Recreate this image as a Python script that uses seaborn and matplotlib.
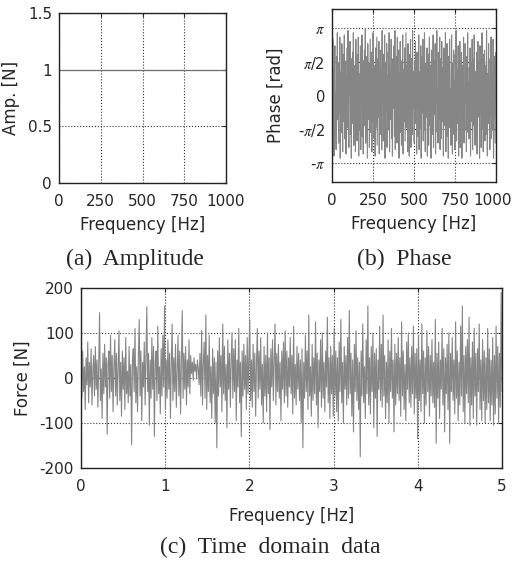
import numpy as np
import pandas as pd
import matplotlib
matplotlib.use('Agg')
import matplotlib.pyplot as plt
import matplotlib.transforms as mtransforms
import seaborn as sns

#%% data
amp_freq = [0, 1000]
amp = [1.0, 1.0]

# phase spectrum [rad], 0 - 1000 Hz
phase = [
    0.4, -1.9, 2.6, -0.7, 1.2, -2.8, 0.9, 2.3, -1.4, 0.1, -2.5, 1.8, -0.3, 2.9, -1.1, 0.6, -2.2, 1.5, -0.8, 2.7,
    -2.9, 0.2, 1.1, -1.7, 2.4, -0.5, -2.6, 1.9, 0.7, -1.2, 2.8, -2.0, 0.3, 1.6, -2.7, 0.9, -0.4, 2.2, -1.5, 3.0,
    -0.9, -2.4, 1.3, 0.0, 2.5, -1.8, 0.8, -2.9, 1.7, -0.2, 2.0, -1.3, 2.9, -2.3, 0.5, -0.9, 1.4, -2.6, 2.6, -1.0,
    0.3, -2.1, 1.9, -0.6, 2.7, -2.8, 1.0, -1.6, 0.4, 2.3, -2.5, 1.2, -0.1, 2.8, -1.9, 0.6, -2.7, 1.6, -0.7, 2.1,
    -1.4, 3.1, -2.2, 0.2, 1.8, -0.8, -2.9, 2.4, -1.1, 0.9, 1.5, -2.4, 0.1, 2.6, -1.7, -0.3, 2.0, -2.6, 1.1, -1.2,
    2.9, -0.5, -2.0, 1.4, 0.6, -2.8, 2.2, -1.5, 0.8, 2.7, -2.3, 0.0, 1.7, -1.0, 2.5, -2.7, 0.4, -0.9, 2.1, -1.8,
    1.2, -2.5, 3.0, -0.4, 0.7, -2.1, 1.9, -1.3, 2.8, -2.9, 0.3, 1.5, -0.7, 2.4, -2.4, 0.9, -1.6, 2.0, -0.2, 2.9,
    -2.6, 1.1, -1.1, 0.5, 2.6, -2.0, 1.7, -2.8, 0.2, 1.3, -0.6, 2.3, -1.9, 3.0, -2.5, 0.8, -0.3, 1.8, -2.2, 2.7,
    -1.4, 0.4, 2.1, -2.9, 1.0, -0.8, 2.5, -1.7, 0.6, -2.3, 1.6, -0.1, 2.8, -2.7, 1.2, -1.2, 0.9, 2.2, -2.1, 0.3,
    2.9, -1.5, -0.4, 1.4, -2.6, 2.4, -0.9, 0.7, -2.8, 1.9, -1.0, 2.6, -2.4, 0.1, 1.7, -1.8, 3.0, -0.6, 1.1, 0.2,
    -2.2, 1.6, -0.2, 2.5, -1.3, 0.8, -2.7, 2.0, -0.6, 1.3, -1.9, 2.8, -2.5, 0.5, 1.1, -1.5, 2.3, -2.9, 0.0, 1.8,
    -0.8, 2.6, -2.1, 1.0, -1.6, 2.9, -0.3, -2.6, 1.5, 0.4, -1.0, 2.2, -2.8, 0.7, 1.9, -2.3, 0.2, 2.7, -1.4, -0.5,
    1.4, -2.9, 2.1, -0.1, 0.9, -1.8, 2.8, -2.4, 0.6, 1.6, -0.9, 2.4, -2.7, 1.2, -0.4, 3.0, -1.7, 0.3, -2.2, 2.0,
    -1.1, 0.5, 2.7, -2.5, 1.7, -0.7, -2.0, 2.5, -1.2, 0.1, 1.3, -2.8, 2.2, -0.5, 0.8, -1.4, 2.9, -2.6, 1.0, -0.2,
    2.4, -1.9, 0.6, -2.9, 1.8, -0.4, 2.6, -1.5, 0.3, -2.3, 1.1, 2.8, -1.0, -2.7, 1.5, 0.0, 2.1, -1.8, 0.7, -2.5,
    1.9, -0.6, 3.0, -2.1, 0.4, 1.2, -1.3, 2.3, -2.8, 0.9, -0.1, 2.5, -2.4, 1.6, -0.8, 2.0, -2.9, 0.5, 1.4, -1.1,
    2.7, -2.2, 0.2, -1.6, 2.4, -0.3, 1.0, -2.6, 1.8, -0.9, 2.9, -1.7, 0.6, -2.0, 1.3, -0.5, 2.2, -2.8, 0.8, 1.5,
    -1.2, 2.6, -2.5, 0.1, 1.7, -1.4, 2.8, -0.7, -2.3, 1.1, 0.4, -1.9, 2.0, -2.7, 0.9, 2.5, -1.0, -0.2, 1.6, -2.9,
    2.3, -0.8, 1.2, -2.4, 0.5, 2.9, -1.5, 0.0, -2.6, 1.9, -0.4, 2.1, -2.1, 0.7, 1.4, -1.8, 3.0, -0.6, -2.8, 1.0,
    -0.1, 2.4, -1.3, 0.8, -2.5, 1.7, -0.9, 2.7, -2.0, 0.3, 1.1, -1.6, 2.6, -2.9, 0.6, 1.8, -0.3, -2.2, 2.0, 0.9,
]

# force [N], 0 - 5
force = [
    # 0 - 1
    10, -45, 60, -30, 25, -70, 45, -15, 80, -55, 35, -20, 65, -60, 15, 50, -40, 70, -25, 40,
    -65, 30, 145, -50, 20, -90, 55, -35, 75, -20, 45, -125, 30, 60, -45, 95, -30, 50, -75, 25,
    85, -40, 55, -60, 20, 105, -50, 35, -85, 60, -25, 45, -70, 90, -35, 15, -55, 70, -40, 30,
    -148, 40, 65, -30, 110, -55, 25, -75, 50, 130, -40, 60, -95, 35, -20, 80, -60, 45, 158, -30,
    55, -105, 40, -45, 90, -25, 70, -130, 35, 60, -50, 115, -35, 25, -80, 65, -40, 95, -20, 160,
    # 1 - 2
    -70, 40, -45, 85, -25, 55, -90, 30, 120, -50, 45, -30, 75, -65, 20, 95, -40, 60, -80, 35,
    150, -45, 55, -25, 70, -60, 40, -20, 85, -35, 50, 10, 35, -5, 45, 15, 30, 0, 40, 20,
    -15, 55, -40, 105, -60, 30, 80, -45, 140, -70, 50, -30, 95, -55, 25, -90, 65, -35, 45, -100,
    35, -155, 60, -40, 90, -20, 50, -75, 120, -35, 70, -50, 30, -110, 85, -25, 55, -65, 40, 100,
    -45, 65, -30, 85, -95, 40, -20, 110, -55, 35, -130, 60, -40, 75, -25, 50, -70, 90, -35, 45,
    # 2 - 3
    130, -50, 40, -65, 75, -30, 55, -85, 35, 110, -45, 60, -25, 90, -60, 30, -100, 70, -40, 50,
    -75, 100, -35, 45, -115, 65, -20, 85, -50, 40, 120, -60, 55, -30, 75, -45, 35, -95, 60, -25,
    80, -55, 105, -40, 60, -65, 45, -20, 90, -35, 50, -80, 115, -45, 30, -60, 70, -25, 55, -50,
    40, -100, 65, -155, 35, -45, 95, -30, 60, -70, 140, -40, 25, -85, 75, -50, 45, -35, 125, -60,
    55, -110, 40, -30, 85, -65, 100, -45, 35, -75, 60, -20, 135, -55, 45, -90, 70, -35, 50, -85,
    # 3 - 4
    110, -40, 60, -75, 45, -95, 80, -30, 130, -55, 35, -100, 70, -25, 50, -60, 90, -45, 150, -35,
    55, -85, 40, -120, 75, -30, 105, -50, 45, -70, 35, -175, 60, -40, 120, -55, 25, -90, 85, -35,
    160, -60, 45, -80, 70, -30, 100, -110, 55, -45, 65, -130, 40, -25, 115, -50, 75, -65, 140, -40,
    50, -90, 35, -55, 85, -100, 60, -30, 110, -45, 40, -120, 75, -60, 55, -35, 90, -50, 45, -85,
    125, -40, 60, -70, 30, -95, 80, -25, 100, -55, 45, -65, 70, -35, 115, -80, 55, -45, 65, -135,
    # 4 - 5
    95, -50, 40, -75, 120, -35, 60, -100, 45, -60, 105, -30, 70, -85, 50, -40, 85, -55, 35, -65,
    130, -145, 55, -45, 80, -90, 40, -25, 110, -60, 65, -120, 45, -35, 75, -70, 100, -145, 55, -30,
    90, -50, 40, -80, 125, -45, 60, -95, 35, -60, 115, -40, 160, -75, 50, -100, 70, -35, 85, -55,
    135, -105, 45, -60, 80, -90, 110, -40, 55, -105, 65, -30, 120, -70, 40, -95, 85, -50, 60, -100,
    45, -70, 110, -55, 65, -95, 40, -60, 90, -105, 50, -80, 115, -45, 70, -100, 55, -65, 190, -30,
]

phase_freq = np.linspace(0, 1000, len(phase))
time = np.linspace(0, 5, len(force))

amp_df = pd.DataFrame({'freq': amp_freq, 'amp': amp})
phase_df = pd.DataFrame({'freq': phase_freq, 'phase': phase})
force_df = pd.DataFrame({'t': time, 'force': force})

#%% style
sns.set_style('white')
plt.rcParams['font.family'] = ['DejaVu Sans']
plt.rcParams['mathtext.fontset'] = 'stix'
plt.rcParams['axes.unicode_minus'] = False
line_col = '#868686'
fs = 12       # axis labels
tick_fs = 11  # tick labels
cap_fs = 17


def style_ax(ax):
    ax.grid(True, color='#333333', linestyle=':', linewidth=0.8)
    for s in ax.spines.values():
        s.set_color('#222222')
        s.set_linewidth(1.0)
    ax.tick_params(direction='in', length=3, labelsize=tick_fs,
                   top=True, right=True, color='#222222')
    ax.tick_params(axis='x', pad=8)
    ax.tick_params(axis='y', pad=5)


fig = plt.figure(figsize=(5.14, 5.61), dpi=100)
ax_a = fig.add_axes([59 / 514, 1 - 183 / 561, 167 / 514, 170 / 561])
ax_b = fig.add_axes([332 / 514, 1 - 182 / 561, 164 / 514, 173 / 561])
ax_c = fig.add_axes([81 / 514, 1 - 468 / 561, 421 / 514, 180 / 561])

# (a) amplitude
sns.lineplot(data=amp_df, x='freq', y='amp', ax=ax_a, color='#707070', linewidth=0.9)
ax_a.set_xlim(0, 1000)
ax_a.set_ylim(0, 1.5)
ax_a.set_xticks([0, 250, 500, 750, 1000])
ax_a.set_yticks([0, 0.5, 1, 1.5])
ax_a.set_yticklabels(['0', '0.5', '1', '1.5'])
ax_a.set_xlabel('Frequency [Hz]', fontsize=fs, labelpad=5)
ax_a.set_ylabel('Amp. [N]', fontsize=fs)
ax_a.yaxis.set_label_coords(-0.234, 0.5)
style_ax(ax_a)

# (b) phase
sns.lineplot(data=phase_df, x='freq', y='phase', ax=ax_b, color=line_col, linewidth=0.8)
ax_b.set_xlim(0, 1000)
ax_b.set_ylim(-4, 4)
ax_b.set_xticks([0, 250, 500, 750, 1000])
ax_b.set_yticks([-np.pi, -np.pi / 2, 0, np.pi / 2, np.pi])
ax_b.set_yticklabels([r'-$\pi$', r'-$\pi$/2', '0', r'$\pi$/2', r'$\pi$'])
ax_b.set_xlabel('Frequency [Hz]', fontsize=fs, labelpad=5)
ax_b.set_ylabel('Phase [rad]', fontsize=fs)
ax_b.yaxis.set_label_coords(-0.287, 0.5)
style_ax(ax_b)
ax_b.tick_params(axis='y', labelsize=10.5)
# keep the last tick label inside the figure
last = ax_b.get_xticklabels()[-1]
last.set_transform(last.get_transform()
                   + mtransforms.ScaledTranslation(-3 / 100, 0, fig.dpi_scale_trans))

# (c) time domain
sns.lineplot(data=force_df, x='t', y='force', ax=ax_c, color=line_col, linewidth=0.8)
ax_c.set_xlim(0, 5)
ax_c.set_ylim(-200, 200)
ax_c.set_xticks([0, 1, 2, 3, 4, 5])
ax_c.set_yticks([-200, -100, 0, 100, 200])
ax_c.set_xlabel('Frequency [Hz]', fontsize=fs, labelpad=9)
ax_c.set_ylabel('Force [N]', fontsize=fs)
ax_c.yaxis.set_label_coords(-0.116, 0.5)
style_ax(ax_c)

# captions
cap_font = dict(family=['Liberation Serif', 'DejaVu Serif'], fontsize=cap_fs,
                ha='center', va='center')
fig.text(135 / 514, 1 - 259 / 561, '(a)  Amplitude', **cap_font)
fig.text(404 / 514, 1 - 259 / 561, '(b)  Phase', **cap_font)
fig.text(270 / 514, 1 - 547 / 561, '(c)  Time  domain  data', **cap_font)

fig.savefig('out.png', dpi=100)
